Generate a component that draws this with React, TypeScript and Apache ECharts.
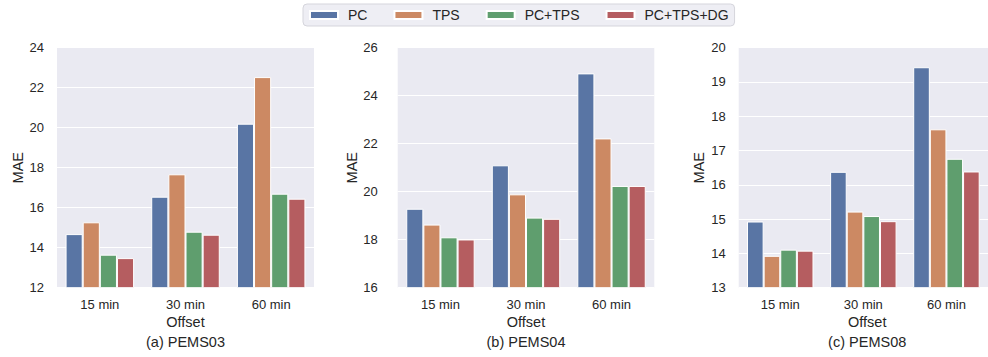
import React, { useEffect, useRef } from "react";
import * as echarts from "echarts";

const categories = ["15 min", "30 min", "60 min"];
const methods = ["PC", "TPS", "PC+TPS", "PC+TPS+DG"];
const colors = ["#5975a4", "#cc8963", "#5f9e6e", "#b55d60"];

// PEMS03
const pems03PC = [14.68, 16.55, 20.2];
const pems03TPS = [15.27, 17.67, 22.53];
const pems03PCTPS = [13.65, 14.8, 16.7];
const pems03DG = [13.48, 14.65, 16.45];
// PEMS04
const pems04PC = [19.29, 21.1, 24.93];
const pems04TPS = [18.63, 19.89, 22.22];
const pems04PCTPS = [18.1, 18.92, 20.24];
const pems04DG = [18.01, 18.87, 20.24];
// PEMS08
const pems08PC = [14.93, 16.38, 19.43];
const pems08TPS = [13.93, 15.22, 17.62];
const pems08PCTPS = [14.11, 15.09, 16.76];
const pems08DG = [14.08, 14.94, 16.39];

const panelTitles = ["(a) PEMS03", "(b) PEMS04", "(c) PEMS08"];
const yRanges = [
  { min: 12, max: 24, interval: 2 },
  { min: 16, max: 26, interval: 2 },
  { min: 13, max: 20, interval: 1 },
];
const panelData = [
  [pems03PC, pems03TPS, pems03PCTPS, pems03DG],
  [pems04PC, pems04TPS, pems04PCTPS, pems04DG],
  [pems08PC, pems08TPS, pems08PCTPS, pems08DG],
];

const FONT = "'Liberation Sans', Arial, Helvetica, sans-serif";
const TXT = "#262626";

export default function App() {
  const ref = useRef<HTMLDivElement>(null);
  useEffect(() => {
    if (!ref.current) return;
    const chart = echarts.init(ref.current, undefined, { renderer: "svg" });
    const grids = [
      { left: 57, top: 47.7, width: 257, height: 240 },
      { left: 397.7, top: 47.7, width: 256.6, height: 240 },
      { left: 738.7, top: 47.7, width: 257, height: 240 },
    ];
    const labelMargins = [13, 20, 13];
    const series: any[] = [];
    panelData.forEach((arrs, gi) => {
      arrs.forEach((vals, mi) => {
        series.push({
          type: "bar",
          name: methods[mi],
          xAxisIndex: gi,
          yAxisIndex: gi,
          data: vals,
          barGap: "0%",
          barCategoryGap: "20%",
          itemStyle: { color: colors[mi], borderColor: "#ffffff", borderWidth: 1 },
          emphasis: { disabled: true },
        });
      });
    });
    const graphics: any[] = [];
    grids.forEach((g, i) => {
      const cx = g.left + g.width / 2;
      graphics.push({
        type: "text",
        x: cx,
        y: 322,
        style: { text: "Offset", fontSize: 14.5, fontFamily: FONT, fill: TXT, align: "center", verticalAlign: "middle" },
      });
      graphics.push({
        type: "text",
        x: cx,
        y: 342,
        style: { text: panelTitles[i], fontSize: 14.5, fontFamily: FONT, fill: TXT, align: "center", verticalAlign: "middle" },
      });
    });
    chart.setOption({
      animation: false,
      textStyle: { fontFamily: FONT },
      grid: grids.map((g) => ({ ...g, show: true, backgroundColor: "#eaeaf2", borderWidth: 0, containLabel: false })),
      legend: {
        data: methods,
        left: 303,
        top: 4,
        padding: [4, 6, 4, 6],
        itemWidth: 28,
        itemHeight: 8,
        itemGap: 26,
        icon: "rect",
        backgroundColor: "#eeeef4",
        borderColor: "#d5d5dc",
        borderWidth: 1,
        borderRadius: 4,
        textStyle: { fontSize: 14, color: TXT, fontFamily: FONT, padding: [0, 0, 0, 5] },
      },
      xAxis: grids.map((_, i) => ({
        type: "category",
        gridIndex: i,
        data: categories,
        axisLine: { show: false },
        axisTick: { show: false },
        axisLabel: { fontSize: 13, color: TXT, margin: 10, fontFamily: FONT },
        splitLine: { show: false },
      })),
      yAxis: grids.map((_, i) => ({
        type: "value",
        gridIndex: i,
        min: yRanges[i].min,
        max: yRanges[i].max,
        interval: yRanges[i].interval,
        name: "MAE",
        nameLocation: "middle",
        nameGap: 32,
        nameTextStyle: { fontSize: 14.5, color: TXT, fontFamily: FONT },
        axisLine: { show: false },
        axisTick: { show: false },
        axisLabel: { fontSize: 13, color: TXT, margin: labelMargins[i], fontFamily: FONT },
        splitLine: { show: true, lineStyle: { color: "#ffffff", width: 1 } },
      })),
      series,
      graphic: graphics,
    });
    return () => chart.dispose();
  }, []);
  return (
    <div
      ref={ref}
      style={{ position: "absolute", left: 0, top: 0, width: 988, height: 357 }}
    />
  );
}
